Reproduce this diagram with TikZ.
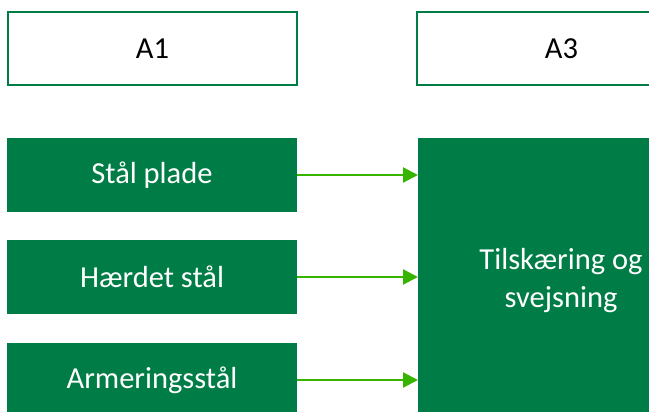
\documentclass[tikz,border=0pt]{standalone}
\usepackage{fontspec}
\setmainfont{Carlito}
\usetikzlibrary{arrows.meta}
\definecolor{boxgreen}{RGB}{0,125,70}
\definecolor{arrowgreen}{RGB}{55,180,0}
\tikzset{
  labelbox/.style={draw=boxgreen, line width=1.6pt, fill=white, minimum width=289pt, minimum height=73pt, inner sep=0pt, font=\fontsize{30.5}{38}\selectfont, text=black},
  inbox/.style={fill=boxgreen, minimum width=290pt, minimum height=74pt, inner sep=0pt, font=\fontsize{30.5}{38}\selectfont, text=white},
  bigbox/.style={fill=boxgreen, minimum width=286pt, minimum height=286pt, inner sep=0pt, font=\fontsize{30.5}{38}\selectfont, text=white, align=center},
  flow/.style={draw=arrowgreen, line width=2.2pt, -{Triangle[length=15pt,width=15pt]}}
}
\begin{document}
\begin{tikzpicture}[x=1pt,y=-1pt]
\useasboundingbox (0,0) rectangle (649,412);
\clip (0,0) rectangle (649,412);
\node[labelbox] (a1) at (152.5,48.5) {A1};
\node[labelbox] (a3) at (561.5,48.5) {A3};
\node[inbox] (s1) at (152,175) {Stål plade};
\node[inbox] (s2) at (152,277) {Hærdet stål};
\node[inbox] (s3) at (152,380) {Armeringsstål};
\node[bigbox] (big) at (561,281) {Tilskæring og\\svejsning};
\coordinate (t1) at (418,175);
\coordinate (t2) at (418,277);
\coordinate (t3) at (418,380);
\draw[flow] (s1.east) -- (t1);
\draw[flow] (s2.east) -- (t2);
\draw[flow] (s3.east) -- (t3);
\end{tikzpicture}
\end{document}
